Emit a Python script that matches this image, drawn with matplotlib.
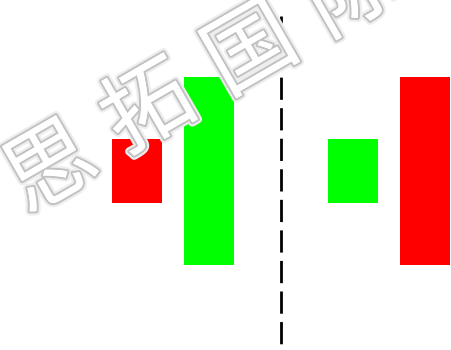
import matplotlib
matplotlib.use("Agg")
import matplotlib.pyplot as plt
import matplotlib.patheffects as pe

# Candle data
positions = [0, 1, 3, 4]
opens = [147, 273, 211, 85]
closes = [211, 85, 147, 273]
colors = ["#ff0000", "#00ff00", "#00ff00", "#ff0000"]
divider_x = 2
watermark_chars = ["思", "拓", "国", "际"]

fig = plt.figure(figsize=(4.52, 3.5), dpi=100)
ax = fig.add_axes([0, 0, 1, 1])
ax.set_xlim(-1.903, 4.375)
ax.set_ylim(0, 350)
ax.axis("off")

# watermark
wm_pos = [(52, 170), (150, 110), (252, 52), (352, -6)]
for ch, (px, py) in zip(watermark_chars, wm_pos):
    fig.text(px / 452, 1 - py / 350, ch, fontsize=64, family=["Noto Sans CJK SC"],
             rotation=30, ha="center", va="center",
             color="white", zorder=0,
             path_effects=[pe.withStroke(linewidth=6, foreground="#eeeeee"),
                           pe.withStroke(linewidth=3, foreground="#c2c2c2"),
                           pe.Normal()])

for p, o, c, col in zip(positions, opens, closes, colors):
    lo, hi = min(o, c), max(o, c)
    ax.bar(p, hi - lo, bottom=lo, width=0.694, color=col, zorder=3)

ax.plot([divider_x, divider_x], [334, 0], color="black", lw=2,
        linestyle=(0, (8, 3)), zorder=4)

fig.savefig("out.png", dpi=100)
